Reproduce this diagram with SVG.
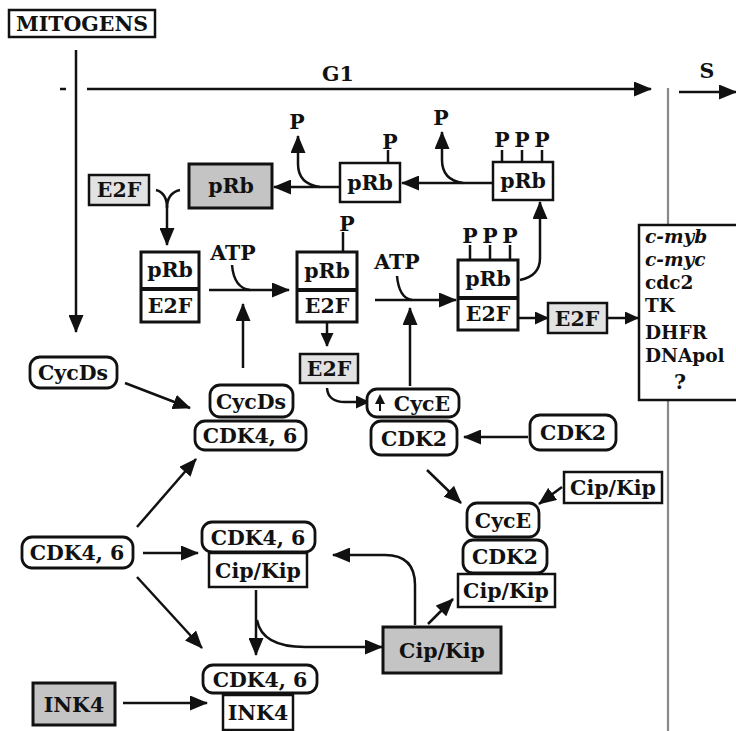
<svg xmlns="http://www.w3.org/2000/svg" width="736" height="731" viewBox="0 0 736 731">
<defs>
<style>
text{font-family:"DejaVu Serif","Liberation Serif",serif;font-weight:bold;font-size:20.5px;fill:#111;text-anchor:middle}
.it{font-style:italic}
.lt{text-anchor:start;font-size:18.5px}
.box{fill:#fff;stroke:#111;stroke-width:2.5}
.gray{fill:#c4c4c4;stroke:#111;stroke-width:3}
.lgray{fill:#e2e2e2;stroke:#111;stroke-width:2.5}
.rnd{fill:#fff;stroke:#111;stroke-width:2.8}
.cx{fill:#fff;stroke:#111;stroke-width:3}
.div{stroke:#111;stroke-width:4}
.ln{fill:none;stroke:#111;stroke-width:2.5}
.arr{fill:none;stroke:#111;stroke-width:2.5;marker-end:url(#ah)}
.sarr{fill:none;stroke:#111;stroke-width:2.5;marker-end:url(#sh)}
</style>
<marker id="ah" markerUnits="userSpaceOnUse" markerWidth="18" markerHeight="15" refX="17" refY="7.5" orient="auto"><path d="M0,0 L18,7.5 L0,15 z" fill="#111"/></marker>
<marker id="sh" markerUnits="userSpaceOnUse" markerWidth="14" markerHeight="13" refX="13" refY="6.5" orient="auto"><path d="M0,0 L14,6.5 L0,13 z" fill="#111"/></marker>
</defs>
<rect width="736" height="731" fill="#fff"/>

<g id="connectors">
<path class="arr" d="M76,50 V332"/>
<path class="ln" d="M60,89 H66"/>
<path class="arr" d="M87,89 H651"/>
<path d="M668,88 V225 M668,400 V731" stroke="#888" stroke-width="2.2" fill="none"/>
<path class="arr" d="M679,92 H736"/>
<path class="arr" d="M493,183 H402"/>
<path class="arr" d="M463,183 Q442,180 442,160 V132"/>
<path class="arr" d="M340,187 H274"/>
<path class="arr" d="M320,187 Q298,184 298,164 V136"/>
<path class="ln" d="M388,150 V163"/>
<path class="ln" d="M502,150 V162 M522,150 V162 M542,150 V162"/>
<path class="ln" d="M156,190 Q167,193 167,208 M180,190 Q167,193 167,208"/>
<path class="arr" d="M167,205 V245"/>
<path class="arr" d="M209,290 H289"/>
<path class="ln" d="M232,265 Q234,288 250,290"/>
<path class="arr" d="M243,368 V304"/>
<path class="ln" d="M343,232 V252"/>
<path class="sarr" d="M327,322 V346"/>
<path class="arr" d="M375,300 H456"/>
<path class="ln" d="M397,276 Q399,298 412,300"/>
<path class="arr" d="M410,386 V308"/>
<path class="ln" d="M470,245 V260 M490,245 V260 M510,245 V260"/>
<path class="arr" d="M520,280 Q540,276 540,258 V202"/>
<path class="sarr" d="M518,318 H548"/>
<path class="sarr" d="M607,318 H638"/>
<path class="sarr" d="M327,388 Q328,402 345,402 H369"/>
<path class="arr" d="M125,383 L190,408"/>
<path class="arr" d="M137,527 L196,459"/>
<path class="arr" d="M143,553 H198"/>
<path class="arr" d="M137,577 L202,648"/>
<path class="arr" d="M528,437 H464"/>
<path class="arr" d="M427,470 L461,503"/>
<path class="arr" d="M562,487 L539,504"/>
<path class="arr" d="M256,590 V655"/>
<path class="arr" d="M257,620 Q262,647 305,647 H382"/>
<path class="arr" d="M415,625 V585 Q415,555 385,555 H333"/>
<path class="arr" d="M428,624 L453,599"/>
<path class="arr" d="M123,703 H207"/>
</g>

<g id="mitogens"><rect class="box" x="9" y="10" width="146" height="27" stroke-width="2"/><text x="82" y="31" font-size="21">MITOGENS</text></g>
<g id="g1-label"><text x="338" y="81">G1</text></g>
<g id="s-label"><text x="707" y="78">S</text></g>
<g id="p-left"><text x="297" y="129" font-size="18">P</text></g>
<g id="p-mid"><text x="441" y="125" font-size="18">P</text></g>

<g id="prb-gray"><rect class="gray" x="189" y="164" width="83" height="44"/><text x="231" y="193">pRb</text></g>
<g id="e2f-free1"><rect class="lgray" x="89" y="175" width="60" height="30"/><text x="119" y="197">E2F</text></g>
<g id="prb-1p"><rect class="box" x="340" y="163" width="60" height="39"/><text x="370" y="190">pRb</text><text x="390" y="149" font-size="18">P</text></g>
<g id="prb-3p"><rect class="box" x="493" y="162" width="60" height="38"/><text x="523" y="188">pRb</text><text x="502" y="147" font-size="18">P</text><text x="522" y="147" font-size="18">P</text><text x="542" y="147" font-size="18">P</text></g>

<g id="complex1"><rect class="cx" x="141" y="252" width="58" height="70"/><line class="div" x1="141" y1="289" x2="199" y2="289"/><text x="170" y="277">pRb</text><text x="170" y="313">E2F</text></g>
<g id="atp1"><text x="233" y="260">ATP</text></g>
<g id="complex2"><rect class="cx" x="297" y="252" width="60" height="70"/><line class="div" x1="297" y1="290" x2="357" y2="290"/><text x="327" y="278">pRb</text><text x="327" y="313">E2F</text><text x="347" y="231" font-size="18">P</text></g>
<g id="atp2"><text x="397" y="269">ATP</text></g>
<g id="complex3"><rect class="cx" x="458" y="260" width="60" height="70"/><line class="div" x1="458" y1="298" x2="518" y2="298"/><text x="488" y="286">pRb</text><text x="488" y="321">E2F</text><text x="470" y="243" font-size="18">P</text><text x="490" y="243" font-size="18">P</text><text x="510" y="243" font-size="18">P</text></g>
<g id="e2f-free2"><rect class="lgray" x="300" y="354" width="58" height="29"/><text x="329" y="376">E2F</text></g>
<g id="e2f-free3"><rect class="lgray" x="548" y="303" width="59" height="30"/><text x="577" y="326">E2F</text></g>

<g id="targets"><rect class="box" x="639" y="225" width="110" height="175" stroke-width="2"/>
<text class="lt it" x="645" y="243">c-myb</text>
<text class="lt it" x="645" y="266">c-myc</text>
<text class="lt" x="645" y="289">cdc2</text>
<text class="lt" x="645" y="312">TK</text>
<text class="lt" x="645" y="339">DHFR</text>
<text class="lt" x="645" y="362">DNApol</text>
<text x="680" y="389" font-size="18.5">?</text></g>

<g id="cycds-free"><rect class="rnd" x="30" y="357" width="87" height="31" rx="10"/><text x="73" y="380">CycDs</text></g>
<g id="cycds-cdk46"><rect class="rnd" x="210" y="385" width="83" height="32" rx="10"/><text x="251" y="409">CycDs</text><rect class="rnd" x="195" y="421" width="111" height="29" rx="10"/><text x="250" y="443">CDK4, 6</text></g>
<g id="cyce-cdk2"><rect class="rnd" x="367" y="389" width="92" height="28" rx="10"/><text x="422" y="411">CycE</text><path d="M380,411 V402" stroke="#111" stroke-width="2"/><path d="M375,404 L380,394 L385,404 z" fill="#111"/><rect class="rnd" x="371" y="421" width="86" height="34" rx="10"/><text x="414" y="446">CDK2</text></g>
<g id="cdk2-free"><rect class="rnd" x="530" y="415" width="86" height="35" rx="10"/><text x="573" y="440">CDK2</text></g>
<g id="cipkip-free1"><rect class="box" x="564" y="472" width="98" height="31"/><text x="613" y="495">Cip/Kip</text></g>
<g id="cyce-cdk2-cipkip"><rect class="rnd" x="467" y="503" width="72" height="34" rx="10"/><text x="503" y="528">CycE</text><rect class="rnd" x="463" y="540" width="84" height="33" rx="10"/><text x="505" y="564">CDK2</text><rect class="box" x="458" y="574" width="97" height="33"/><text x="506" y="598">Cip/Kip</text></g>
<g id="cdk46-free"><rect class="rnd" x="22" y="537" width="111" height="31" rx="10"/><text x="77" y="560">CDK4, 6</text></g>
<g id="cdk46-cipkip"><rect class="rnd" x="202" y="522" width="113" height="30" rx="10"/><text x="258" y="545">CDK4, 6</text><rect class="box" x="209" y="553" width="98" height="34"/><text x="258" y="578">Cip/Kip</text></g>
<g id="cipkip-gray"><rect class="gray" x="383" y="627" width="118" height="46"/><text x="442" y="658">Cip/Kip</text></g>
<g id="cdk46-ink4"><rect class="rnd" x="203" y="665" width="114" height="28" rx="10"/><text x="260" y="687">CDK4, 6</text><rect class="box" x="223" y="695" width="70" height="35"/><text x="258" y="720">INK4</text></g>
<g id="ink4-gray"><rect class="gray" x="33" y="683" width="82" height="42"/><text x="74" y="712">INK4</text></g>
</svg>
